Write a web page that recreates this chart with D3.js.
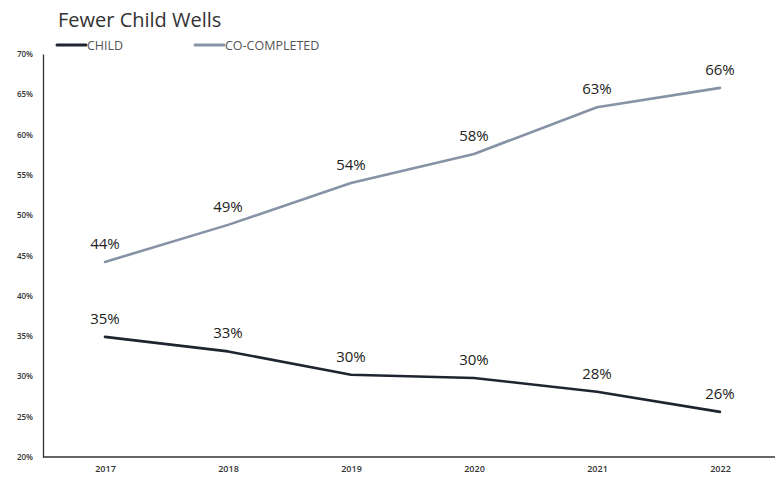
<!DOCTYPE html>
<html><head><meta charset="utf-8">
<script src="https://cdn.jsdelivr.net/npm/d3@7"></script>
<style>body{margin:0;background:#fff}svg{display:block}</style>
</head><body>
<svg id="c" width="775" height="480"></svg>
<script>
const years = ["2017","2018","2019","2020","2021","2022"];
const child = [34.9, 33.1, 30.2, 29.8, 28.1, 25.6];
const coCompleted = [44.2, 48.8, 54.0, 57.6, 63.4, 65.8];
const childLabels = ["35%","33%","30%","30%","28%","26%"];
const coLabels = ["44%","49%","54%","58%","63%","66%"];
const yTicks = [20,25,30,35,40,45,50,55,60,65,70];

(function () {
const svg = d3.select("#c");
const font = "'Open Sans', 'Noto Sans', sans-serif";
const mLeft = 43, mRight = 775, mTop = 54, mBottom = 457;

const x = d3.scalePoint().domain(years).range([105, 720]);
const y = d3.scaleLinear().domain([20, 70]).range([mBottom, mTop]);

// axes
const ya = svg.append("g").attr("transform", `translate(${mLeft},0)`)
  .call(d3.axisLeft(y).tickValues(yTicks).tickFormat(d => d + "%").tickSize(0).tickPadding(10));
ya.select(".domain").attr("stroke", "#333").attr("stroke-width", 1.3);
ya.selectAll("text").attr("font-family", font).attr("font-size", 8).attr("font-weight", 600).attr("fill", "#333");

const xa = svg.append("g").attr("transform", `translate(0,${mBottom})`)
  .call(d3.axisBottom(x).tickSize(0).tickPadding(9));
xa.select(".domain").attr("d", `M${mLeft},0H${mRight}`).attr("stroke", "#333").attr("stroke-width", 1.3);
xa.selectAll("text").attr("font-family", font).attr("font-size", 9).attr("font-weight", 600).attr("fill", "#333");

const series = [
  {name: "CHILD", values: child, labels: childLabels, color: "#1e2530"},
  {name: "CO-COMPLETED", values: coCompleted, labels: coLabels, color: "#8693a6"}
];

const line = d3.line().x((d, i) => x(years[i])).y(d => y(d));

series.forEach(s => {
  svg.append("path").datum(s.values).attr("d", line)
    .attr("fill", "none").attr("stroke", s.color).attr("stroke-width", 2.6)
    .attr("stroke-linejoin", "round").attr("stroke-linecap", "round");
  svg.selectAll(null).data(s.values).enter().append("text")
    .attr("x", (d, i) => x(years[i]))
    .attr("y", d => y(d) - 13)
    .attr("text-anchor", "middle")
    .attr("font-family", font).attr("font-size", 15).attr("fill", "#222")
    .text((d, i) => s.labels[i]);
});

// title
svg.append("text").attr("x", 58).attr("y", 27).attr("font-family", font)
  .attr("font-size", 20).attr("fill", "#333").text("Fewer Child Wells");

// legend
const legX = [57, 195];
series.forEach((s, i) => {
  const g = svg.append("g").attr("transform", `translate(${legX[i]},45)`);
  g.append("line").attr("x1", 0).attr("x2", 29).attr("y1", 0).attr("y2", 0)
    .attr("stroke", s.color).attr("stroke-width", 3).attr("stroke-linecap", "round");
  g.append("text").attr("x", 30).attr("y", 4.5).attr("font-family", font)
    .attr("font-size", 12.5).attr("fill", "#555").text(s.name);
});
})();
</script>
</body></html>
